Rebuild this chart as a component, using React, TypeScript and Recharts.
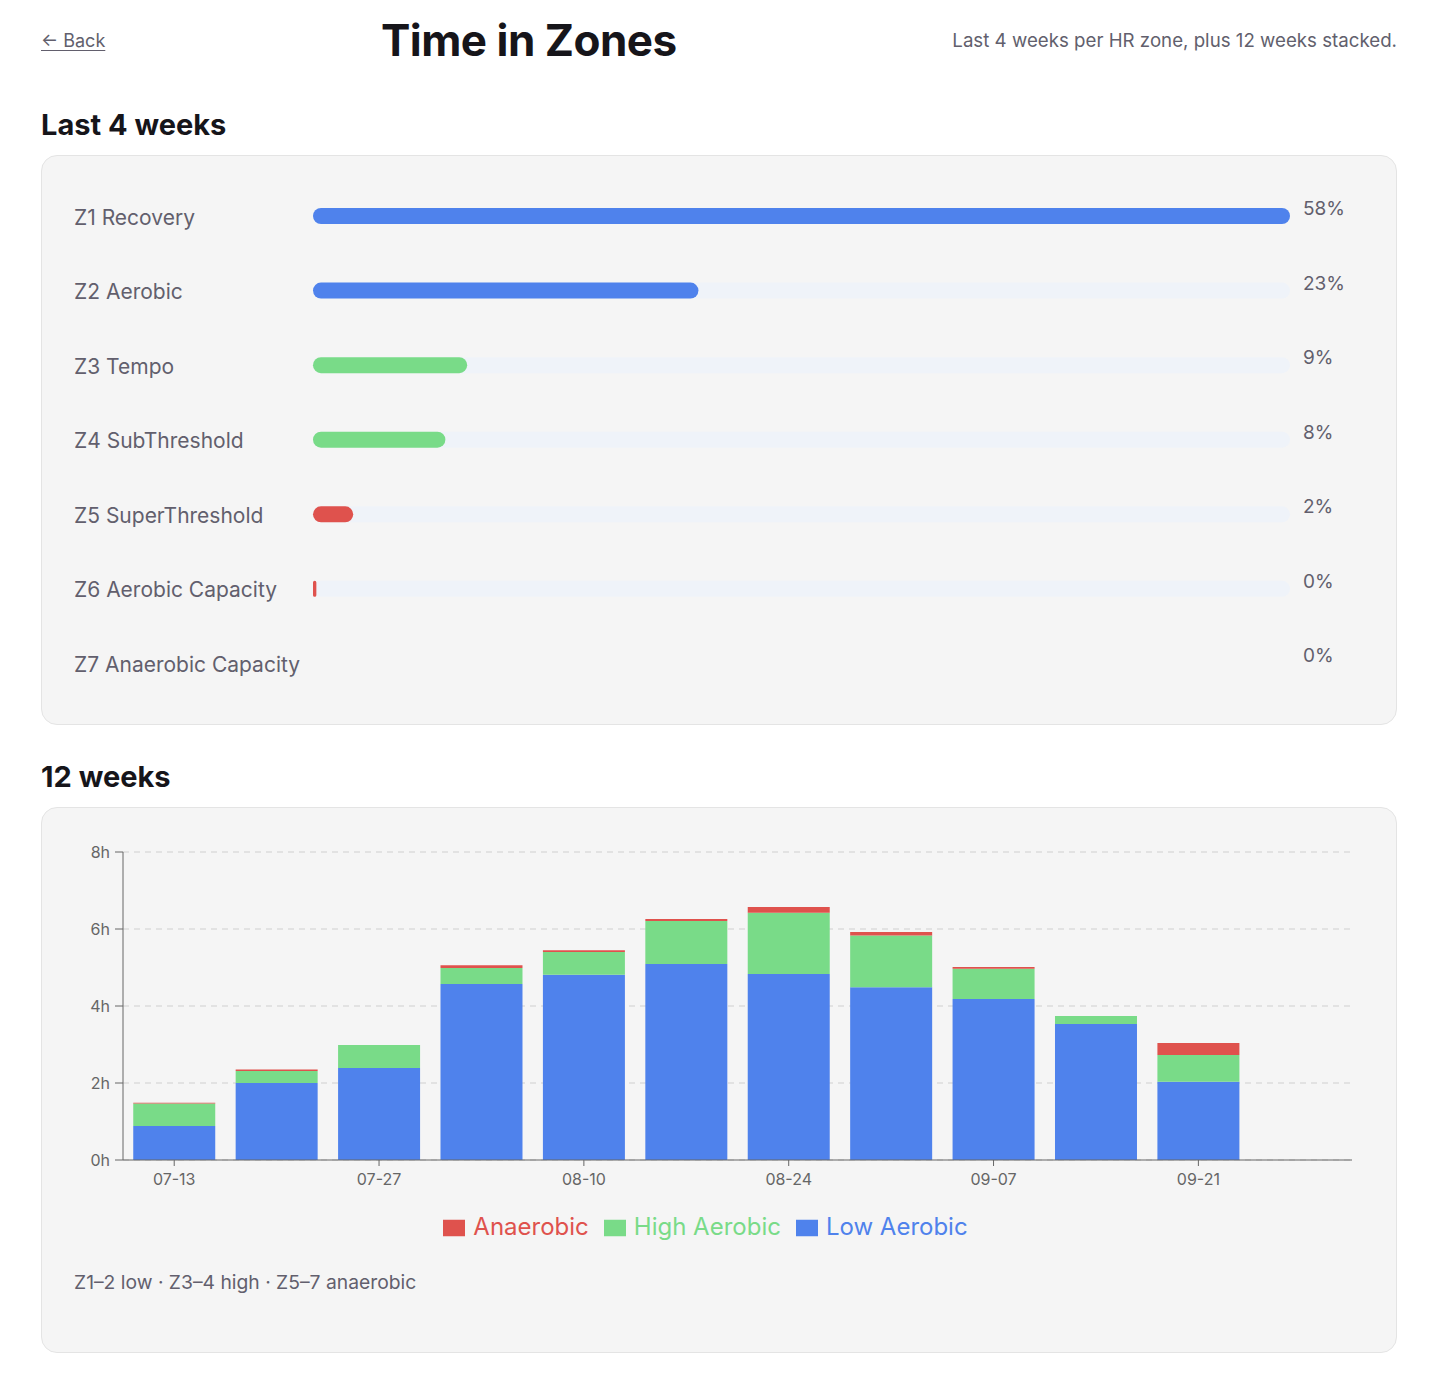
import React from "react"
import { Bar, BarChart, CartesianGrid, Cell, Legend, XAxis, YAxis } from "recharts"

// last 4 weeks, share of time per HR zone (%)
const zones = [
  "Z1 Recovery",
  "Z2 Aerobic",
  "Z3 Tempo",
  "Z4 SubThreshold",
  "Z5 SuperThreshold",
  "Z6 Aerobic Capacity",
  "Z7 Anaerobic Capacity",
]
const zoneShare = [58.3, 23.0, 9.2, 7.9, 2.4, 0.2, 0.0]
const zoneGroup = ["low", "low", "high", "high", "anaerobic", "anaerobic", "anaerobic"]

// 12 weeks stacked, hours per week
const weeks = ["07-13", "07-20", "07-27", "08-03", "08-10", "08-17", "08-24", "08-31", "09-07", "09-14", "09-21", "09-28"]
const lowAerobic = [0.88, 2.0, 2.39, 4.57, 4.81, 5.09, 4.83, 4.49, 4.18, 3.53, 2.03, 0]
const highAerobic = [0.59, 0.31, 0.6, 0.42, 0.59, 1.12, 1.59, 1.34, 0.79, 0.21, 0.7, 0]
const anaerobic = [0.02, 0.04, 0, 0.07, 0.05, 0.05, 0.15, 0.09, 0.04, 0, 0.31, 0]
const hourTicks = [0, 2, 4, 6, 8]

const BLUE = "#4f82ec"
const GREEN = "#79db88"
const RED = "#df524d"
const groupColor: Record<string, string> = { low: BLUE, high: GREEN, anaerobic: RED }
const MUTED = "#625f6d"

const zoneRows = zones.map((zone, i) => ({ zone, share: zoneShare[i], group: zoneGroup[i] }))
const weekRows = weeks.map((week, i) => ({
  week,
  low: lowAerobic[i],
  high: highAerobic[i],
  anaerobic: anaerobic[i],
}))

const card: React.CSSProperties = {
  boxSizing: "border-box",
  background: "#f5f5f5",
  border: "1px solid #e4e4e4",
  borderRadius: 16,
}

const heading: React.CSSProperties = {
  margin: 0,
  fontSize: 29,
  lineHeight: "34px",
  fontWeight: 700,
  color: "#16151a",
}

function ZoneTick(props: any) {
  const { y, payload } = props
  return (
    <text x={0} y={y + 1} dy="0.35em" textAnchor="start" fontSize={21} fill={MUTED}>
      {payload.value}
    </text>
  )
}

export default function App() {
  return (
    <div style={{ width: 1422, boxSizing: "border-box", padding: "0 33px", fontFamily: "Inter, sans-serif" }}>
      <div style={{ height: 64, display: "flex", alignItems: "center", justifyContent: "space-between" }}>
        <a href="#" style={{ color: MUTED, fontSize: 18, textDecoration: "underline", textUnderlineOffset: 3 }}>
          ← Back
        </a>
        <div style={{ fontSize: 44, fontWeight: 700, color: "#16151a", letterSpacing: -0.5 }}>Time in Zones</div>
        <div style={{ fontSize: 18.7, color: MUTED }}>Last 4 weeks per HR zone, plus 12 weeks stacked.</div>
      </div>

      <h2 style={{ ...heading, marginTop: 36, marginBottom: 13 }}>Last 4 weeks</h2>
      <div style={{ ...card, height: 570, padding: "23px 32px" }}>
        <BarChart
          width={1290}
          height={522}
          data={zoneRows}
          layout="vertical"
          margin={{ top: 0, right: 0, bottom: 0, left: 0 }}
        >
          <XAxis type="number" hide domain={[0, "dataMax"]} />
          <YAxis
            yAxisId="zone"
            type="category"
            dataKey="zone"
            width={239}
            axisLine={false}
            tickLine={false}
            tick={<ZoneTick />}
          />
          <YAxis
            yAxisId="pct"
            orientation="right"
            type="category"
            dataKey="zone"
            width={74}
            axisLine={false}
            tickLine={false}
            tickSize={0}
            tickMargin={13}
            tick={{ fontSize: 19, fill: MUTED, dy: -8 }}
            tickFormatter={(_v: unknown, i: number) => `${Math.round(zoneShare[i])}%`}
          />
          <Bar
            yAxisId="zone"
            dataKey="share"
            barSize={16}
            radius={8}
            background={{ fill: "#eff3f9", radius: 8 }}
            isAnimationActive={false}
          >
            {zoneRows.map((r) => (
              <Cell key={r.zone} fill={groupColor[r.group]} />
            ))}
          </Bar>
        </BarChart>
      </div>

      <h2 style={{ ...heading, marginTop: 35, marginBottom: 13 }}>12 weeks</h2>
      <div style={{ ...card, height: 546, padding: 32 }}>
        <BarChart width={1290} height={401} data={weekRows} margin={{ top: 12, right: 12, bottom: 0, left: 0 }}>
          <CartesianGrid vertical={false} stroke="#cfcfcf" strokeDasharray="6 5" />
          <XAxis dataKey="week" interval={1} tickMargin={8} tick={{ fontSize: 16, fill: "#666" }} stroke="#666" />
          <YAxis
            width={49}
            domain={[0, 8]}
            ticks={hourTicks}
            tickSize={8}
            tickMargin={5}
            tickFormatter={(v: number) => `${v}h`}
            tick={{ fontSize: 16, fill: "#666" }}
            stroke="#666"
          />
          <Legend
            iconSize={22}
            wrapperStyle={{ fontSize: 24, paddingTop: 22 }}
            formatter={(value: string) => <span style={{ marginLeft: 4, marginRight: 5 }}>{value}</span>}
          />
          <Bar dataKey="low" name="Low Aerobic" stackId="t" fill={BLUE} isAnimationActive={false} />
          <Bar dataKey="high" name="High Aerobic" stackId="t" fill={GREEN} isAnimationActive={false} />
          <Bar dataKey="anaerobic" name="Anaerobic" stackId="t" fill={RED} isAnimationActive={false} />
        </BarChart>
        <div style={{ marginTop: 29, fontSize: 19.3, color: MUTED }}>Z1–2 low · Z3–4 high · Z5–7 anaerobic</div>
      </div>
    </div>
  )
}
